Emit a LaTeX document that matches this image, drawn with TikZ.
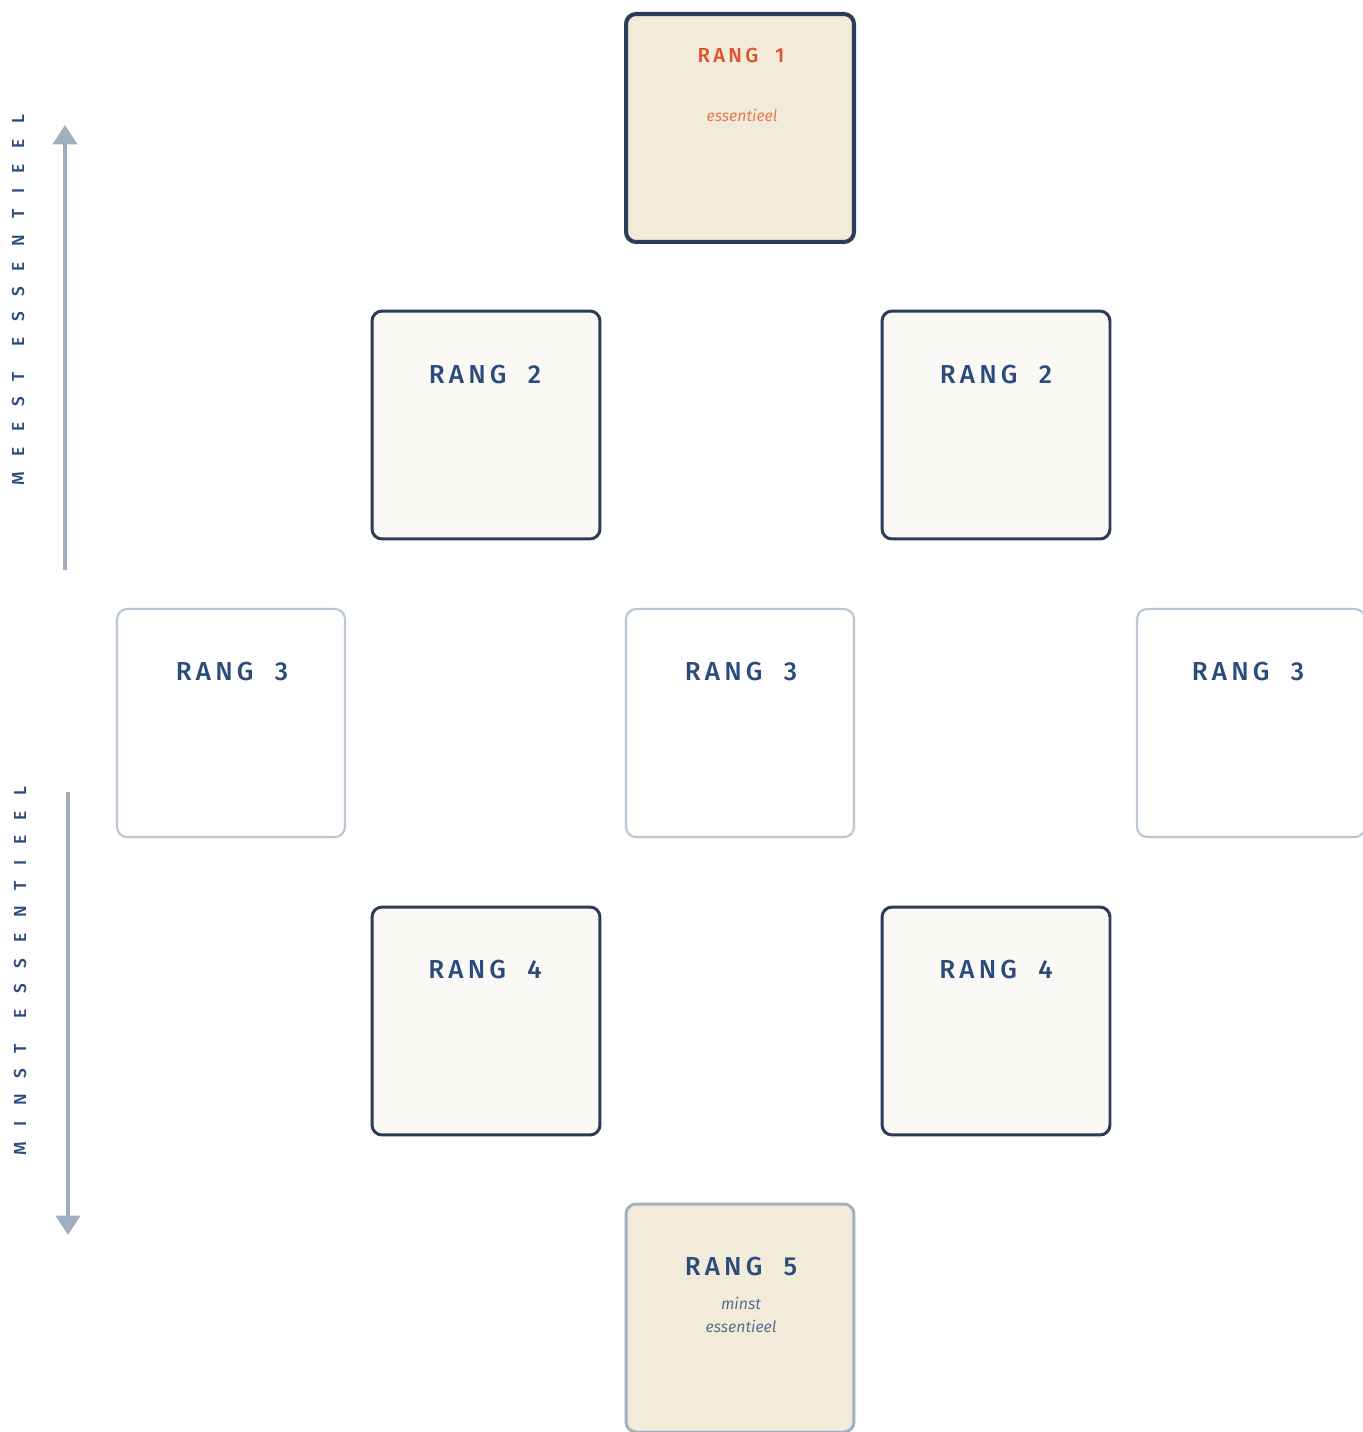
\documentclass[tikz,border=0pt]{standalone}
\usepackage{fontspec}
\setmainfont{Fira Sans}
\newfontfamily\rangfont[LetterSpace=16,WordSpace=2.0,UprightFont={* Medium}]{Fira Sans}
\newfontfamily\axisfont[LetterSpace=90,WordSpace=1.3,UprightFont={* Medium}]{Fira Sans}
\usetikzlibrary{arrows.meta}
\definecolor{navy}{HTML}{2A4B7C}
\definecolor{darkrim}{HTML}{2C3B57}
\definecolor{beige}{HTML}{F3EBDA}
\definecolor{paper}{HTML}{FBF9F5}
\definecolor{palerim}{HTML}{B9C6D3}
\definecolor{arrowgray}{HTML}{9FAFBE}
\definecolor{rangred}{HTML}{E0502B}
\definecolor{rangorange}{HTML}{E87A50}
\definecolor{softnavy}{HTML}{5C6F8E}
\definecolor{softrim}{HTML}{A3B1BF}
\tikzset{
  card/.style={rectangle,rounded corners=0.2cm,minimum width=4.56cm,minimum height=4.56cm,inner sep=0pt},
  topcard/.style={card,draw=darkrim,line width=2.3pt,fill=beige},
  darkcard/.style={card,draw=darkrim,line width=1.7pt,fill=paper},
  palecard/.style={card,draw=palerim,line width=1.2pt,fill=white},
  lastcard/.style={card,draw=softrim,line width=1.7pt,fill=beige},
  rangtxt/.style={font=\rangfont\fontsize{14.8}{16}\selectfont,text=navy},
  notetxt/.style={font=\itshape\fontsize{9}{13}\selectfont,align=center},
  axistxt/.style={font=\axisfont\fontsize{9.9}{12}\selectfont,text=navy,rotate=90},
  axisarrow/.style={draw=arrowgray,line width=2.3pt,-{Triangle[width=13.6pt,length=11pt]}}
}
\begin{document}
\begin{tikzpicture}[x=0.02cm,y=-0.02cm]
\useasboundingbox[fill=white] (0,0) rectangle (1362,1432);
% kaarten
\node[topcard]  (r1)  at (740,128)  {};
\node[darkcard] (r2a) at (486,425)  {};
\node[darkcard] (r2b) at (996,425)  {};
\node[palecard] (r3a) at (231,723)  {};
\node[palecard] (r3b) at (740,723)  {};
\node[palecard] (r3c) at (1251,723) {};
\node[darkcard] (r4a) at (486,1021) {};
\node[darkcard] (r4b) at (996,1021) {};
\node[lastcard] (r5)  at (740,1318) {};
% teksten
\node[rangtxt,text=rangred,font=\rangfont\fontsize{11.6}{13}\selectfont] (t1) at (741,55) {RANG 1};
\node[notetxt,text=rangorange] (n1) at (742,115) {essentieel};
\node[rangtxt] (t2a) at (485,375)  {RANG 2};
\node[rangtxt] (t2b) at (996,375)  {RANG 2};
\node[rangtxt] (t3a) at (232,672)  {RANG 3};
\node[rangtxt] (t3b) at (741,672)  {RANG 3};
\node[rangtxt] (t3c) at (1248,672) {RANG 3};
\node[rangtxt] (t4a) at (485,970)  {RANG 4};
\node[rangtxt] (t4b) at (996,970)  {RANG 4};
\node[rangtxt] (t5)  at (741,1267) {RANG 5};
\node[notetxt,text=softnavy] (n5) at (741,1315) {minst\\essentieel};
% assen
\coordinate (upbot) at (65,570);
\coordinate (uptop) at (65,125);
\coordinate (dntop) at (68,792);
\coordinate (dnbot) at (68,1235);
\draw[axisarrow] (upbot) -- (uptop);
\draw[axisarrow] (dntop) -- (dnbot);
\node[axistxt] (ameest) at (18,300) {MEEST ESSENTIEEL};
\node[axistxt] (aminst) at (20,971) {MINST ESSENTIEEL};
\end{tikzpicture}
\end{document}
